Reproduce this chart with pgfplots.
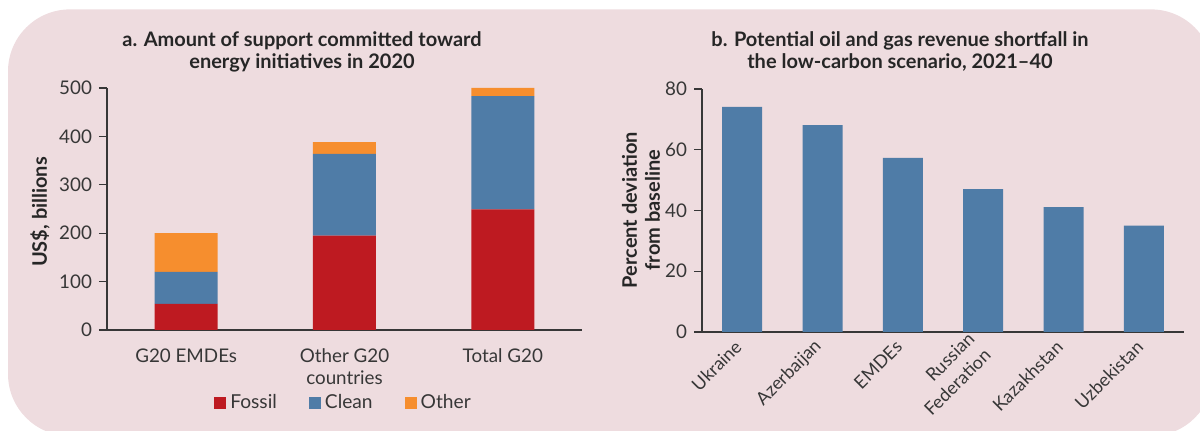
\documentclass[border=0pt]{standalone}
\usepackage{fontspec}
\setmainfont{Lato}
\usepackage{pgfplots}
\pgfplotsset{compat=1.18}

\definecolor{bg}{RGB}{238,220,223}
\definecolor{fossil}{RGB}{190,26,33}
\definecolor{clean}{RGB}{79,124,167}
\definecolor{other}{RGB}{246,142,46}
\definecolor{txt}{RGB}{55,55,55}

\pgfplotsset{
  panel/.style={
    scale only axis,
    axis lines=left,
    axis line style={-, txt, line width=0.7pt},
    enlargelimits=false,
    ymin=0,
    tick align=outside,
    major tick length=4pt,
    ytick style={txt, line width=0.6pt},
    xtick style={draw=none},
    tick label style={font=\fontsize{9.4}{11}\selectfont, text=txt},
    /pgf/number format/assume math mode=true,
    clip=false,
  },
}

\begin{document}
\begin{tikzpicture}[x=1pt, y=1pt]
\path[use as bounding box] (0,0) rectangle (600,215.5);
\begin{scope}
  \clip (0,0) rectangle (600,215.5);
  \fill[bg, rounded corners=31pt] (4,-2.5) rectangle (606.5,210.8);
\end{scope}

% titles
\node[font=\bfseries\fontsize{10}{11}\selectfont, text=black!85, align=center]
  at (151,189.8) {a. Amount of support committed toward\\energy initiatives in 2020};
\node[font=\bfseries\fontsize{10}{11}\selectfont, text=black!85, align=center]
  at (450,189.8) {b. Potential oil and gas revenue shortfall in\\the low-carbon scenario, 2021--40};

% y labels
\node[font=\bfseries\fontsize{10}{11.5}\selectfont, text=black!85, rotate=90]
  at (20,109.5) {US\$, billions};
\node[font=\bfseries\fontsize{10}{11.5}\selectfont, text=black!85, rotate=90, align=center]
  at (320.5,110.5) {Percent deviation\\from baseline};

% panel a
\begin{axis}[panel,
  at={(53.5pt,50.5pt)}, anchor=south west,
  width=237.5pt, height=121pt,
  xmin=-0.5, xmax=2.5, ymax=500,
  ytick={0,100,200,300,400,500},
  xtick={0,1,2},
  xticklabels={G20 EMDEs, {Other G20\\countries}, Total G20},
  x tick label style={align=center, yshift=-2pt},
  ybar stacked, bar width=31.5pt,
  legend columns=3,
  legend style={draw=none, fill=none, at={(0.5,-0.30)}, anchor=center,
    font=\fontsize{9.6}{11}\selectfont, text=txt,
    /tikz/every even column/.append style={column sep=14pt}},
  legend image code/.code={\fill[#1] (0pt,-3pt) rectangle (6pt,3pt);},
]
\addplot[fill=fossil, draw=none] coordinates {(0,54) (1,195) (2,249)};
\addplot[fill=clean, draw=none] coordinates {(0,66) (1,169) (2,234)};
\addplot[fill=other, draw=none] coordinates {(0,80) (1,24) (2,17)};
\legend{Fossil, Clean, Other}
\end{axis}

% panel b
\begin{axis}[panel,
  at={(351pt,49.5pt)}, anchor=south west,
  width=241pt, height=121.5pt,
  xmin=-0.5, xmax=5.5, ymax=80,
  ytick={0,20,40,60,80},
  xtick={0,...,5},
  xticklabels={Ukraine, Azerbaijan, EMDEs, {Russian\\Federation}, Kazakhstan, Uzbekistan},
  x tick label style={font=\fontsize{9}{11.5}\selectfont, yshift=0.5pt, xshift=0.5pt, rotate=45, anchor=east, align=right},
  ybar, bar width=20pt,
]
\addplot[fill=clean, draw=none] coordinates {(0,74.1) (1,68.1) (2,57.3) (3,47.0) (4,41.1) (5,35.0)};
\end{axis}
\end{tikzpicture}
\end{document}
